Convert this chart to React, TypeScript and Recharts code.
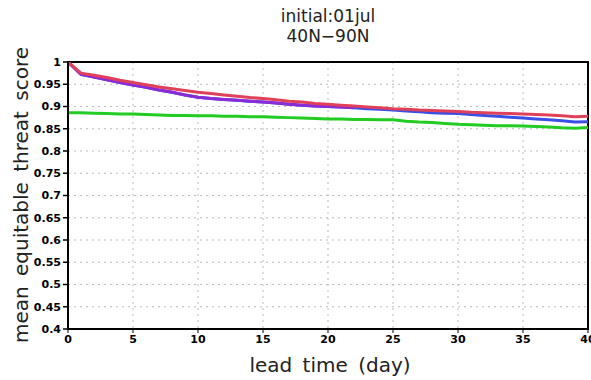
import React from 'react';
import { LineChart, Line, XAxis, YAxis, CartesianGrid, ReferenceArea, Label } from 'recharts';

const days = [0,1,2,3,4,5,6,7,8,9,10,11,12,13,14,15,16,17,18,19,20,21,22,23,24,25,26,27,28,29,30,31,32,33,34,35,36,37,38,39,40];
const redSeries = [1.0,0.975,0.970,0.965,0.959,0.954,0.949,0.944,0.940,0.936,0.932,0.929,0.926,0.923,0.920,0.918,0.915,0.912,0.910,0.907,0.905,0.903,0.901,0.899,0.897,0.895,0.894,0.892,0.891,0.890,0.889,0.887,0.886,0.885,0.884,0.883,0.882,0.881,0.879,0.877,0.878];
const purpleSeries = [1.0,0.972,0.966,0.960,0.954,0.948,0.943,0.937,0.932,0.926,0.921,0.918,0.916,0.914,0.912,0.910,0.908,0.905,0.903,0.901,0.900,0.899,0.897,null,null,null,null,null,null,null,null,null,null,null,null,null,null,null,null,null,null];
const blueSeries = [1.0,0.972,0.966,0.960,0.954,0.948,0.943,0.937,0.932,0.926,0.921,0.918,0.916,0.914,0.912,0.910,0.908,0.905,0.903,0.901,0.900,0.899,0.897,0.895,0.894,0.892,0.890,0.888,0.886,0.885,0.884,0.882,0.880,0.878,0.876,0.874,0.872,0.870,0.868,0.865,0.866];
const greenSeries = [0.886,0.886,0.885,0.884,0.883,0.883,0.882,0.881,0.880,0.880,0.879,0.879,0.878,0.878,0.877,0.877,0.876,0.875,0.874,0.873,0.872,0.872,0.871,0.871,0.870,0.870,0.867,0.865,0.864,0.862,0.860,0.859,0.858,0.857,0.857,0.856,0.855,0.854,0.852,0.851,0.853];
const xTicks = [0,5,10,15,20,25,30,35,40];
const yTicks = [0.4,0.45,0.5,0.55,0.6,0.65,0.7,0.75,0.8,0.85,0.9,0.95,1];
const titleLines = ['initial:01jul', '40N\u221290N'];
const xLabel = 'lead time (day)';
const yLabel = 'mean equitable threat score';

const data = days.map((d, i) => ({
  day: d,
  red: redSeries[i],
  purple: purpleSeries[i],
  blue: blueSeries[i],
  green: greenSeries[i],
}));

const tickStyle = { fontFamily: 'DejaVu Sans', fontSize: 11, fontWeight: 'bold', fill: '#000' } as const;
const labelFont = 'DejaVu Sans';

export default function App() {
  return (
    <div style={{ position: 'fixed', left: 0, top: 0, width: 591, height: 380, background: '#fff' }}>
      <div style={{ position: 'absolute', left: 0, top: 6, width: 656, textAlign: 'center', fontFamily: labelFont, fontSize: 17, lineHeight: '20px', color: '#222' }}>
        {titleLines.map((t) => (<div key={t}>{t}</div>))}
      </div>
      <LineChart width={591} height={380} data={data} margin={{ top: 62, right: 3, bottom: 0, left: 0 }}>
        <CartesianGrid stroke="#bbb" strokeDasharray="2 4" vertical horizontal />
        <XAxis
          dataKey="day"
          type="number"
          domain={[0, 40]}
          ticks={xTicks}
          height={51}
          tick={tickStyle}
          tickSize={4}
          axisLine={{ stroke: '#000', strokeWidth: 2 }}
          tickLine={{ stroke: '#000' }}
          interval={0}
        >
          <Label
            content={() => (
              <text x={330} y={372} textAnchor="middle" fontFamily={labelFont} fontSize={20} fill="#222" style={{ wordSpacing: 4 }}>
                {xLabel}
              </text>
            )}
          />
        </XAxis>
        <YAxis
          type="number"
          domain={[0.4, 1]}
          ticks={yTicks}
          width={68}
          tick={tickStyle}
          tickSize={5}
          axisLine={{ stroke: '#000', strokeWidth: 2 }}
          tickLine={{ stroke: '#000', strokeWidth: 1.5 }}
          interval={0}
          allowDataOverflow
        >
          <Label
            content={() => (
              <text x={28} y={195} textAnchor="middle" transform="rotate(-90 28 195)" fontFamily={labelFont} fontSize={20} fill="#222" style={{ wordSpacing: 4 }}>
                {yLabel}
              </text>
            )}
          />
        </YAxis>
        <ReferenceArea x1={0} x2={40} y1={0.4} y2={1} fill="none" stroke="#000" strokeWidth={2} ifOverflow="visible" />
        <Line dataKey="green" stroke="#22cc22" strokeWidth={3} dot={false} isAnimationActive={false} />
        <Line dataKey="blue" stroke="#3a4fe6" strokeWidth={3} dot={false} isAnimationActive={false} />
        <Line dataKey="purple" stroke="#8a2bd8" strokeWidth={3} dot={false} isAnimationActive={false} connectNulls={false} />
        <Line dataKey="red" stroke="#e0405a" strokeWidth={3} dot={false} isAnimationActive={false} />
      </LineChart>
    </div>
  );
}
